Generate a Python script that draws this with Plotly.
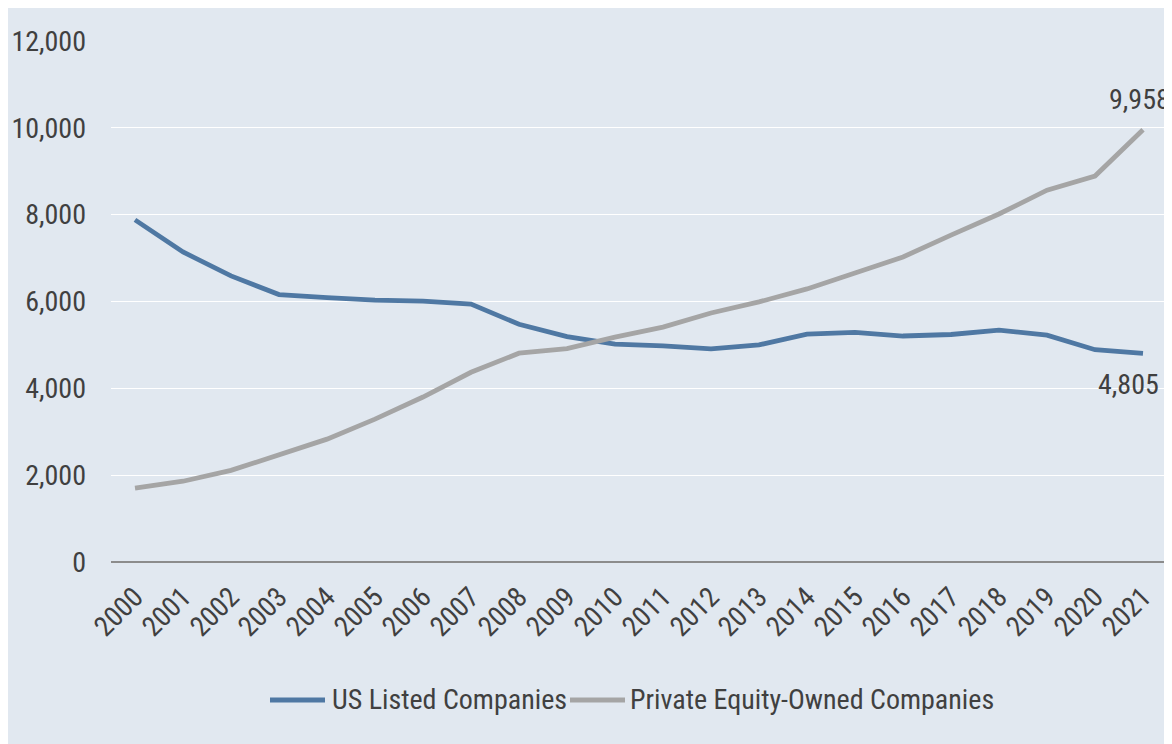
import plotly.graph_objects as go

years = [str(y) for y in range(2000, 2022)]
us_listed = [7880, 7140, 6590, 6160, 6090, 6030, 6010, 5940, 5475, 5190, 5020,
             4980, 4910, 5000, 5250, 5290, 5205, 5240, 5340, 5225, 4890, 4805]
pe_owned = [1700, 1860, 2110, 2460, 2830, 3290, 3800, 4370, 4810, 4915, 5180,
            5410, 5735, 5990, 6290, 6655, 7025, 7530, 8015, 8565, 8890, 9958]
y_ticks = [0, 2000, 4000, 6000, 8000, 10000, 12000]
series_names = ["US Listed Companies", "Private Equity-Owned Companies"]
series_colors = ["#4F78A3", "#A5A5A5"]

BG = "#E1E8F0"
TXT = "#404040"
FONT = "Roboto"
FS = 28


def cond(s):
    return f"<span style='font-stretch:condensed'>{s}</span>"


# page offset of the figure (body margin)
OX, OY = 8, 7
W, H = 1172, 744
L, R, T, B = 103, 13, 33, 190
pw, ph = W - L - R, H - T - B


def px_x(page_px):
    return (page_px - OX - L) / pw


def px_y(page_py):
    return (H - B - (page_py - OY)) / ph


fig = go.Figure()
for name, vals, col in zip(series_names, [us_listed, pe_owned], series_colors):
    fig.add_trace(go.Scatter(x=years, y=vals, mode="lines", name=name, showlegend=False,
                             line=dict(color=col, width=4.8)))

last = len(years) - 1
fig.add_annotation(x=last, y=pe_owned[-1], text=cond(f"{pe_owned[-1]:,}"), showarrow=False,
                   xshift=-4, yshift=30, font=dict(size=FS, color=TXT, family=FONT))
fig.add_annotation(x=last, y=us_listed[-1], text=cond(f"{us_listed[-1]:,}"), showarrow=False,
                   xshift=-15, yshift=-31, font=dict(size=FS, color=TXT, family=FONT))

# custom legend (line samples + labels)
leg_y = 698
for (lx0, lx1, tx), name, col in zip([(270, 325, 330), (570, 625, 628)], series_names, series_colors):
    fig.add_shape(type="line", xref="paper", yref="paper", x0=px_x(lx0), x1=px_x(lx1),
                  y0=px_y(leg_y + 1), y1=px_y(leg_y + 1), line=dict(color=col, width=4.8))
    fig.add_annotation(xref="paper", yref="paper", x=px_x(tx), y=px_y(leg_y), xanchor="left",
                       yanchor="middle", text=cond(name), showarrow=False,
                       font=dict(size=FS, color=TXT, family=FONT))

fig.update_layout(
    width=W, height=H,
    margin=dict(l=L, r=R, t=T, b=B, autoexpand=False),
    paper_bgcolor=BG, plot_bgcolor=BG,
    font=dict(family=FONT, size=FS, color=TXT),
    showlegend=False,
)
fig.update_xaxes(type="category", range=[-0.5, 21.5], showgrid=False, tickangle=-45,
                 tickmode="array", tickvals=years, ticktext=[cond(y) for y in years],
                 ticks="", ticklabelstandoff=12, tickfont=dict(size=FS, color=TXT, family=FONT),
                 showline=False, zeroline=False, fixedrange=True, automargin=False)
fig.update_yaxes(range=[0, 12000], tickmode="array", tickvals=y_ticks,
                 ticktext=[cond(f"{v:,}") for v in y_ticks], showgrid=True,
                 gridcolor="white", gridwidth=1, zeroline=True, zerolinecolor="#8C8C8C",
                 zerolinewidth=2, ticks="", ticklabelstandoff=24, showline=False,
                 tickfont=dict(size=FS, color=TXT, family=FONT), fixedrange=True, automargin=False)

fig.write_html("out.html")
